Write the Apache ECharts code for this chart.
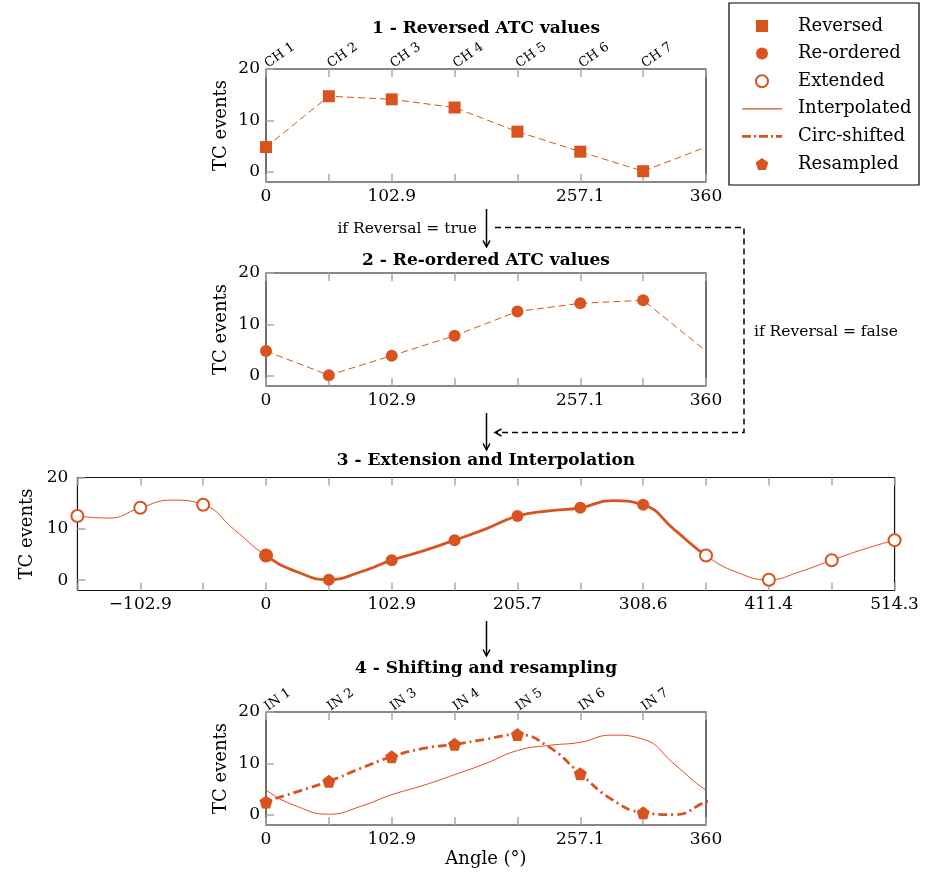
<!DOCTYPE html>
<html><head><meta charset="utf-8">
<script src="https://cdn.jsdelivr.net/npm/echarts@6/dist/echarts.min.js"></script>
<style>html,body{margin:0;padding:0;background:#fff}#c{width:925px;height:872px}</style>
</head><body><div id="c"></div>
<script>
// ---------------- data ----------------
const channelLabels = ['CH 1', 'CH 2', 'CH 3', 'CH 4', 'CH 5', 'CH 6', 'CH 7'];
const inputLabels = ['IN 1', 'IN 2', 'IN 3', 'IN 4', 'IN 5', 'IN 6', 'IN 7'];
const reversedATC = [4.8, 14.7, 14.1, 12.5, 7.8, 3.9, 0.1];
const reorderedATC = [4.8, 0.1, 3.9, 7.8, 12.5, 14.1, 14.7];
const extendedFirstIndex = -3;           // first extended sample = -3 channel steps
const extendedATC = [12.5, 14.1, 14.7, 4.8, 0.1, 3.9, 7.8, 12.5, 14.1, 14.7, 4.8, 0.1, 3.9, 7.8];
// interpolated curve read half way between the extended samples (-128.6 ... 488.6)
const interpolatedMidATC = [12.1, 15.6, 9.8, 1.6, 1.6, 5.7, 10.0, 13.5, 15.5, 9.8, 1.5, 1.7, 6.0];
const resampledIN = [2.5, 6.5, 11.3, 13.7, 15.6, 8.0, 0.4];
// circ-shifted curve read half way between the resampled inputs (25.7 ... 334.3)
const circShiftedMid = [4.5, 9.0, 12.9, 14.7, 13.2, 3.0, 0.0];
const angleTickLabels = ['0', '102.9', '257.1', '360'];
const angleTickSteps = [0, 2, 5, 7];
const extTickLabels = ['\u2212102.9', '0', '102.9', '205.7', '308.6', '411.4', '514.3'];
const extTickSteps = [-2, 0, 2, 4, 6, 8, 10];
const yTickValues = [0, 10, 20];
const legendNames = ['Reversed', 'Re-ordered', 'Extended', 'Interpolated', 'Circ-shifted', 'Resampled'];
const panelTitles = ['1 - Reversed ATC values', '2 - Re-ordered ATC values', '3 - Extension and Interpolation', '4 - Shifting and resampling'];

// ---------------- layout / style ----------------
const STEP = 360 / 7;
const ORANGE = '#D9531E';
const FONT = 'DejaVu Serif';
const PX = 266, PW = 440, PH = 113;
const S = PW / 360;
const tops = [69, 273, 477.5, 712];
const extMin = extendedFirstIndex * STEP;
const extMax = (extendedFirstIndex + extendedATC.length - 1) * STEP;
const L3 = PX + extMin * S, W3 = (extMax - extMin) * S;

function steps(a, b) { const r = []; for (let k = a; k <= b; k++) r.push(k); return r; }
function tickStyle() { return { show: true, inside: true, length: 8, lineStyle: { color: '#a9a9a9', width: 1.5 } }; }
const frame = { show: true, borderColor: '#111', borderWidth: 1.2, backgroundColor: 'rgba(0,0,0,0)' };
const noLine = { show: false, onZero: false };

function xAxisDef(grid, pos, min, max, kFrom, kTo, labels, labelSteps, extra) {
  const a = {
    type: 'value', gridIndex: grid, position: pos, min: min, max: max,
    axisLine: noLine, splitLine: { show: false },
    axisTick: Object.assign({ customValues: steps(kFrom, kTo).map(k => k * STEP) }, tickStyle()),
    axisLabel: labels ? {
      customValues: labelSteps.map(k => k * STEP),
      formatter: v => { const j = labelSteps.indexOf(Math.round(v / STEP)); return j < 0 ? '' : labels[j]; },
      fontFamily: FONT, fontSize: 17, color: '#000', margin: 6
    } : { show: false }
  };
  return Object.assign(a, extra || {});
}
function topLabels(list) {
  return {
    customValues: list.map((_, k) => k * STEP),
    formatter: v => list[Math.round(v / STEP)] || '',
    rotate: -35, fontFamily: FONT, fontSize: 13, color: '#000', margin: 4
  };
}
function yAxisDef(grid, margin, gap) {
  return {
    type: 'value', gridIndex: grid, position: 'left', min: -2, max: 20,
    name: 'TC events', nameLocation: 'middle', nameGap: gap, nameRotate: 90,
    nameTextStyle: { fontFamily: FONT, fontSize: 18, color: '#000' },
    axisLine: noLine, splitLine: { show: false },
    axisTick: Object.assign({ customValues: yTickValues }, tickStyle()),
    axisLabel: { customValues: yTickValues, fontFamily: FONT, fontSize: 17, color: '#000', margin: margin }
  };
}

const xAxes = [
  xAxisDef(0, 'bottom', 0, 360, 0, 7, angleTickLabels, angleTickSteps),
  xAxisDef(0, 'top', 0, 360, 0, 7, null, null),
  xAxisDef(1, 'bottom', 0, 360, 0, 7, angleTickLabels, angleTickSteps),
  xAxisDef(1, 'top', 0, 360, 0, 7, null, null),
  xAxisDef(2, 'bottom', extMin, extMax, extendedFirstIndex, extendedFirstIndex + extendedATC.length - 1, extTickLabels, extTickSteps),
  xAxisDef(2, 'top', extMin, extMax, extendedFirstIndex, extendedFirstIndex + extendedATC.length - 1, null, null),
  { type: 'value', gridIndex: 3, min: 0, max: 360, show: false, axisLine: noLine },
  xAxisDef(4, 'bottom', 0, 360, 0, 7, angleTickLabels, angleTickSteps, {
    name: 'Angle (\u00B0)', nameLocation: 'middle', nameGap: 25,
    nameTextStyle: { fontFamily: FONT, fontSize: 18, color: '#000' }
  }),
  xAxisDef(4, 'top', 0, 360, 0, 7, null, null)
];
xAxes[1].axisLabel = topLabels(channelLabels);
xAxes[8].axisLabel = topLabels(inputLabels);

const yAxes = [
  yAxisDef(0, 6, 36), yAxisDef(1, 6, 36), yAxisDef(2, 9, 40),
  { type: 'value', gridIndex: 3, min: -2, max: 20, show: false, axisLine: noLine },
  yAxisDef(4, 6, 36)
];

// data pairs built from arrays
const chAngle = k => k * STEP;
const revPts = reversedATC.map((v, k) => [chAngle(k), v]);
const revLine = revPts.concat([[360, reversedATC[0]]]);
const reoPts = reorderedATC.map((v, k) => [chAngle(k), v]);
const reoLine = reoPts.concat([[360, reorderedATC[0]]]);
const extPts = extendedATC.map((v, i) => [chAngle(i + extendedFirstIndex), v]);
const extOpen = extPts.filter(p => p[0] <= 0.001 || p[0] >= 359.999);
const interpCurve = [];
extPts.forEach((p, i) => {
  interpCurve.push(p);
  if (i < interpolatedMidATC.length) interpCurve.push([chAngle(i + extendedFirstIndex + 0.5), interpolatedMidATC[i]]);
});
const n = resampledIN.length;
const resPts = resampledIN.map((v, k) => [chAngle(k), v]);
const circCurve = [];
steps(-1, n + 1).forEach(k => {
  const j = ((k % n) + n) % n;
  circCurve.push([chAngle(k), resampledIN[j]]);
  circCurve.push([chAngle(k + 0.5), circShiftedMid[j]]);
});

const PENT = 'path://M0,-1L0.951,-0.309L0.588,0.809L-0.588,0.809L-0.951,-0.309Z';
const SQUARE = 'path://M0,0H1V1H0Z';
const solid = { color: ORANGE, opacity: 1 };
const SM = 0.5;

const series = [
  { type: 'line', xAxisIndex: 0, yAxisIndex: 0, data: revLine, symbol: 'none', color: ORANGE,
    lineStyle: { color: ORANGE, width: 1, type: [7, 4] }, z: 2 },
  { type: 'scatter', name: 'Reversed', xAxisIndex: 0, yAxisIndex: 0, data: revPts, symbol: 'rect', symbolSize: 12,
    itemStyle: solid, z: 3 },
  { type: 'line', xAxisIndex: 2, yAxisIndex: 1, data: reoLine, symbol: 'none', color: ORANGE,
    lineStyle: { color: ORANGE, width: 1, type: [7, 4] }, z: 2 },
  { type: 'scatter', name: 'Re-ordered', xAxisIndex: 2, yAxisIndex: 1, data: reoPts, symbol: 'circle', symbolSize: 12,
    itemStyle: solid, z: 3 },
  { type: 'line', name: 'Interpolated', xAxisIndex: 4, yAxisIndex: 2, data: interpCurve, symbol: 'none', smooth: SM,
    color: ORANGE, lineStyle: { color: ORANGE, width: 1 }, z: 2 },
  { type: 'line', xAxisIndex: 6, yAxisIndex: 3, data: interpCurve, symbol: 'none', smooth: SM, clip: true,
    color: ORANGE, lineStyle: { color: ORANGE, width: 2.8 }, z: 3 },
  { type: 'scatter', name: 'Extended', xAxisIndex: 4, yAxisIndex: 2, data: extOpen, symbol: 'emptyCircle', symbolSize: 12,
    itemStyle: { color: ORANGE, opacity: 1, borderWidth: 1.1 }, z: 4 },
  { type: 'scatter', name: 'Re-ordered', xAxisIndex: 4, yAxisIndex: 2, data: reoPts, symbol: 'circle', symbolSize: 12,
    itemStyle: solid, z: 5 },
  { type: 'line', name: 'Interpolated', xAxisIndex: 7, yAxisIndex: 4, data: interpCurve, symbol: 'none', smooth: SM, clip: true,
    color: ORANGE, lineStyle: { color: ORANGE, width: 1 }, z: 2 },
  { type: 'line', name: 'Circ-shifted', xAxisIndex: 7, yAxisIndex: 4, data: circCurve, symbol: 'none', smooth: SM, clip: true,
    color: ORANGE, lineStyle: { color: ORANGE, width: 2.8, type: [9, 4, 2, 4] }, z: 3 },
  { type: 'scatter', name: 'Resampled', xAxisIndex: 7, yAxisIndex: 4, data: resPts, symbol: PENT, symbolSize: 13,
    itemStyle: solid, z: 4 }
];

const legendIcons = {
  'Reversed': SQUARE,
  'Re-ordered': 'circle',
  'Extended': 'emptyCircle',
  'Interpolated': 'path://M0,0H40V1.2H0Z',
  'Circ-shifted': 'path://M0,0H9V2.6H0Z M12,0H14V2.6H12Z M17,0H26V2.6H17Z M29,0H31V2.6H29Z M34,0H40V2.6H34Z',
  'Resampled': PENT
};

function arrowDown(x, y1, y2) {
  return [
    { type: 'line', shape: { x1: x, y1: y1, x2: x, y2: y2 - 0.5 }, style: { stroke: '#000', lineWidth: 1.5 }, silent: true },
    { type: 'polyline', shape: { points: [[x - 3.5, y2 - 6.5], [x, y2], [x + 3.5, y2 - 6.5]] },
      style: { stroke: '#000', lineWidth: 1.5, fill: null }, silent: true }
  ];
}
const titleY = [28.5, 261, 460.5, 669];
const graphics = [
  { type: 'rect', shape: { x: 729, y: 3, width: 190, height: 182 },
    style: { fill: 'rgba(0,0,0,0)', stroke: '#000', lineWidth: 1.2 }, silent: true, z: -1 }
].concat(panelTitles.map((t, i) => ({
  type: 'text', x: 486, y: titleY[i], silent: true,
  style: { text: t, fontFamily: FONT, fontSize: 17, fontWeight: 'bold', fill: '#000', align: 'center', verticalAlign: 'middle' }
}))).concat(
  arrowDown(486.5, 209, 247),
  arrowDown(486.5, 413, 450),
  arrowDown(486.5, 621, 656),
  [
    { type: 'polyline', shape: { points: [[495, 227.5], [744, 227.5], [744, 432.5], [496, 432.5]] },
      style: { stroke: '#000', lineWidth: 1.5, fill: null, lineDash: [6, 4] }, silent: true },
    { type: 'polyline', shape: { points: [[501.5, 429], [495, 432.5], [501.5, 436]] },
      style: { stroke: '#000', lineWidth: 1.5, fill: null }, silent: true },
    { type: 'text', x: 477, y: 229, silent: true,
      style: { text: 'if Reversal = true', fontFamily: FONT, fontSize: 15.5, fill: '#000', align: 'right', verticalAlign: 'middle' } },
    { type: 'text', x: 754, y: 331.5, silent: true,
      style: { text: 'if Reversal = false', fontFamily: FONT, fontSize: 15.5, fill: '#000', align: 'left', verticalAlign: 'middle' } }
  ]
);

const chart = echarts.init(document.getElementById('c'), null, { renderer: 'canvas' });
chart.setOption({
  animation: false,
  backgroundColor: '#fff',
  grid: [
    Object.assign({ left: PX, top: tops[0], width: PW, height: PH }, frame),
    Object.assign({ left: PX, top: tops[1], width: PW, height: PH }, frame),
    Object.assign({ left: L3, top: tops[2], width: W3, height: PH }, frame),
    { left: PX, top: tops[2], width: PW, height: PH, show: false },
    Object.assign({ left: PX, top: tops[3], width: PW, height: PH }, frame)
  ],
  xAxis: xAxes,
  yAxis: yAxes,
  legend: {
    orient: 'vertical', left: 737, top: 12, itemWidth: 40, itemHeight: 12, itemGap: 9.6,
    selectedMode: false, itemStyle: { borderWidth: 0 },
    textStyle: { fontFamily: FONT, fontSize: 18, color: '#000', padding: [0, 0, 0, 11] },
    data: legendNames.map(nm => ({ name: nm, icon: legendIcons[nm] }))
  },
  series: series,
  graphic: graphics
});
</script>
</body></html>
